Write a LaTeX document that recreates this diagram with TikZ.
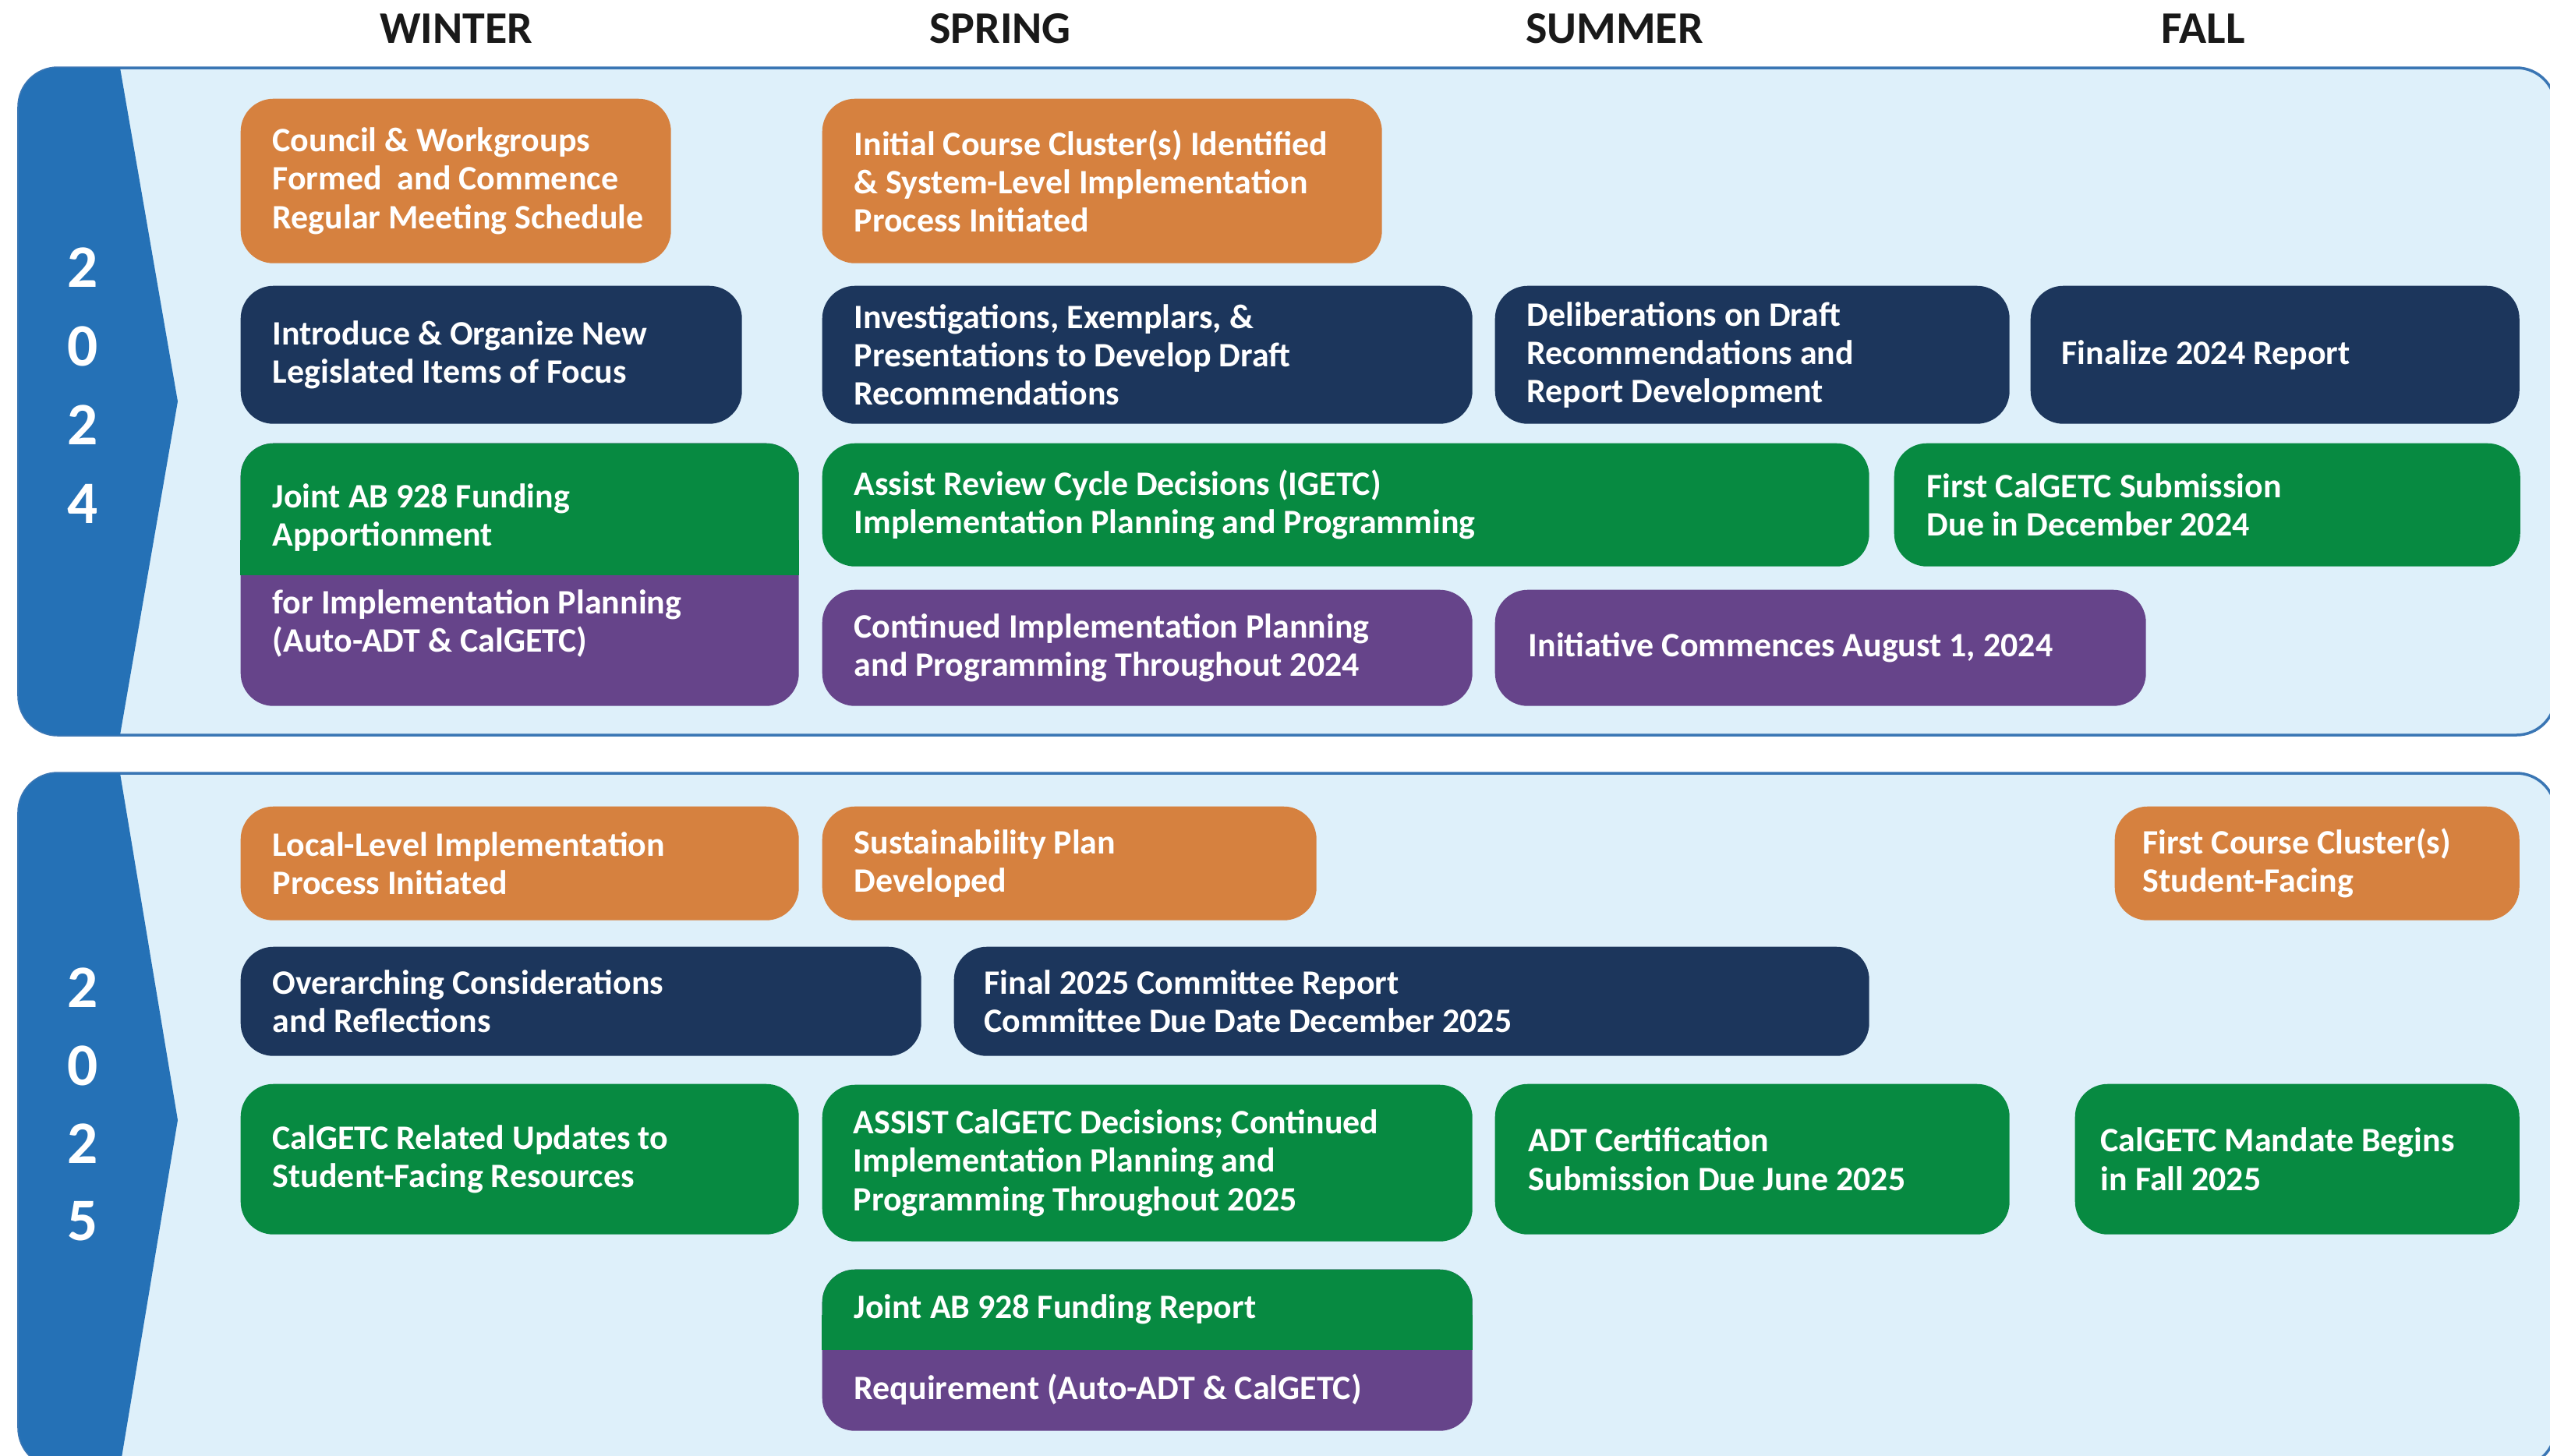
\documentclass[tikz,border=0pt]{standalone}
\usepackage{fontspec}
\setmainfont{Carlito}

\definecolor{evorange}{HTML}{D6813F}
\definecolor{evnavy}{HTML}{1C365C}
\definecolor{evgreen}{HTML}{078A41}
\definecolor{evpurple}{HTML}{66448A}
\definecolor{yrblue}{HTML}{2571B6}
\definecolor{panelfill}{HTML}{DEF0FA}
\definecolor{panelline}{HTML}{3A76B4}

\newcommand{\evfont}{\fontsize{12.5}{14}\selectfont\bfseries}

\tikzset{
  evbox/.style 2 args={minimum width=#1cm, minimum height=#2cm, rounded corners=0.42cm,
    anchor=north west, inner sep=0pt},
  evtext/.style={anchor=west, align=left, text=white, font=\evfont, inner sep=0pt},
  season/.style={font=\fontsize{16.5}{18}\selectfont\bfseries, text=black!90},
  yeardigit/.style={font=\fontsize{22}{24}\selectfont\bfseries, text=white},
  panel/.style={fill=panelfill, draw=panelline, line width=1pt, rounded corners=0.5cm}
}

\begin{document}
\begin{tikzpicture}[x=1cm, y=-1cm]
  \fill[white] (0,0) rectangle (32.71,18.67);
  \useasboundingbox (0,0) rectangle (32.71,18.67);

  % Season headings
  \node[season] (winter) at (5.85,0.37) {WINTER};
  \node[season] (spring) at (12.83,0.37) {SPRING};
  \node[season] (summer) at (20.71,0.37) {SUMMER};
  \node[season] (fall)   at (28.26,0.37) {FALL};

  % Year panels with blue tabs
  \draw[panel] (0.24,0.87) rectangle (32.78,9.43);
  \begin{scope}
    \clip[rounded corners=0.5cm] (0.24,0.87) rectangle (32.78,9.43);
    \fill[yrblue] (0,0.8) -- (1.54,0.8) -- (1.54,0.87) -- (2.28,5.15) -- (1.54,9.43) -- (1.54,9.5) -- (0,9.5) -- cycle;
  \end{scope}
  \draw[panel] (0.24,9.92) rectangle (32.78,18.82);
  \begin{scope}
    \clip[rounded corners=0.5cm] (0.24,9.92) rectangle (32.78,18.82);
    \fill[yrblue] (0,9.85) -- (1.54,9.85) -- (1.54,9.92) -- (2.28,14.37) -- (1.54,18.82) -- (1.54,18.9) -- (0,18.9) -- cycle;
  \end{scope}

  % Year digits
  \foreach \d [count=\i] in {2,0,2,4}
    \node[yeardigit] (y24-\i) at (1.06,{3.43+1.01*(\i-1)}) {\d};
  \foreach \d [count=\i] in {2,0,2,5}
    \node[yeardigit] (y25-\i) at (1.06,{12.67+1.0*(\i-1)}) {\d};

  % 2024: first row
  \node[evbox={5.52}{2.11}, fill=evorange] (council) at (3.08,1.26) {};
  \node[evtext] (council-t) at ([xshift=0.41cm]council.west) {Council \& Workgroups\\Formed~ and Commence\\Regular Meeting Schedule};
  \node[evbox={7.18}{2.11}, fill=evorange] (cluster) at (10.54,1.26) {};
  \node[evtext] (cluster-t) at ([xshift=0.41cm]cluster.west) {Initial Course Cluster(s) Identified\\\& System-Level Implementation\\Process Initiated};

  % 2024: second row
  \node[evbox={6.43}{1.77}, fill=evnavy] (introduce) at (3.08,3.66) {};
  \node[evtext] (introduce-t) at ([xshift=0.41cm]introduce.west) {Introduce \& Organize New\\Legislated Items of Focus};
  \node[evbox={8.34}{1.77}, fill=evnavy] (investigate) at (10.54,3.66) {};
  \node[evtext] (investigate-t) at ([xshift=0.41cm]investigate.west) {Investigations, Exemplars, \&\\Presentations to Develop Draft\\Recommendations};
  \node[evbox={6.60}{1.77}, fill=evnavy] (deliberate) at (19.17,3.66) {};
  \node[evtext] (deliberate-t) at ([xshift=0.41cm]deliberate.west) {Deliberations on Draft\\Recommendations and\\Report Development};
  \node[evbox={6.27}{1.77}, fill=evnavy] (finalize) at (26.04,3.66) {};
  \node[evtext] (finalize-t) at ([xshift=0.40cm]finalize.west) {Finalize 2024 Report};

  % 2024: funding box, green over purple
  \node[evbox={7.16}{3.37}, fill=evpurple] (funding) at (3.08,5.68) {};
  \node[evbox={7.16}{1.69}, fill=evgreen] (funding-top) at (3.08,5.68) {};
  \fill[evgreen] ([yshift=0.45cm]funding-top.south west) rectangle (funding-top.south east);
  \node[evtext] (funding-t1) at (3.49,6.64) {Joint AB 928 Funding\\Apportionment};
  \node[evtext] (funding-t2) at (3.49,8.00) {for Implementation Planning\\(Auto-ADT \& CalGETC)};

  % 2024: third row
  \node[evbox={13.43}{1.58}, fill=evgreen] (review) at (10.54,5.68) {};
  \node[evtext] (review-t) at ([xshift=0.41cm]review.west) {Assist Review Cycle Decisions (IGETC)\\Implementation Planning and Programming};
  \node[evbox={8.03}{1.58}, fill=evgreen] (submission) at (24.29,5.68) {};
  \node[evtext] (submission-t) at ([xshift=0.42cm]submission.west) {First CalGETC Submission\\Due in December 2024};

  % 2024: fourth row
  \node[evbox={8.34}{1.49}, fill=evpurple] (continued) at (10.54,7.56) {};
  \node[evtext] (continued-t) at ([xshift=0.41cm]continued.west) {Continued Implementation Planning\\and Programming Throughout 2024};
  \node[evbox={8.35}{1.49}, fill=evpurple] (initiative) at (19.17,7.56) {};
  \node[evtext] (initiative-t) at ([xshift=0.43cm]initiative.west) {Initiative Commences August 1, 2024};

  % 2025: first row
  \node[evbox={7.16}{1.46}, fill=evorange] (local) at (3.08,10.34) {};
  \node[evtext] (local-t) at ([xshift=0.41cm]local.west) {Local-Level Implementation\\Process Initiated};
  \node[evbox={6.34}{1.46}, fill=evorange] (sustain) at (10.54,10.34) {};
  \node[evtext] (sustain-t) at ([xshift=0.41cm]sustain.west) {Sustainability Plan\\Developed};
  \node[evbox={5.19}{1.46}, fill=evorange] (studentfacing) at (27.12,10.34) {};
  \node[evtext] (studentfacing-t) at ([xshift=0.36cm]studentfacing.west) {First Course Cluster(s)\\Student-Facing};

  % 2025: second row
  \node[evbox={8.73}{1.40}, fill=evnavy] (overarching) at (3.08,12.14) {};
  \node[evtext] (overarching-t) at ([xshift=0.41cm]overarching.west) {Overarching Considerations\\and Reflections};
  \node[evbox={11.74}{1.40}, fill=evnavy] (finalreport) at (12.23,12.14) {};
  \node[evtext] (finalreport-t) at ([xshift=0.39cm]finalreport.west) {Final 2025 Committee Report\\Committee Due Date December 2025};

  % 2025: third row
  \node[evbox={7.16}{1.93}, fill=evgreen] (updates) at (3.08,13.90) {};
  \node[evtext] (updates-t) at ([xshift=0.41cm]updates.west) {CalGETC Related Updates to\\Student-Facing Resources};
  \node[evbox={8.34}{2.01}, fill=evgreen] (decisions) at (10.54,13.91) {};
  \node[evtext] (decisions-t) at ([xshift=0.40cm]decisions.west) {ASSIST CalGETC Decisions; Continued\\Implementation Planning and\\Programming Throughout 2025};
  \node[evbox={6.60}{1.93}, fill=evgreen] (adt) at (19.17,13.90) {};
  \node[evtext] (adt-t) at ([xshift=0.43cm]adt.west) {ADT Certification\\Submission Due June 2025};
  \node[evbox={5.70}{1.93}, fill=evgreen] (mandate) at (26.61,13.90) {};
  \node[evtext] (mandate-t) at ([xshift=0.33cm]mandate.west) {CalGETC Mandate Begins\\in Fall 2025};

  % 2025: funding report box, green over purple
  \node[evbox={8.34}{2.07}, fill=evpurple] (fundreport) at (10.54,16.28) {};
  \node[evbox={8.34}{1.03}, fill=evgreen] (fundreport-top) at (10.54,16.28) {};
  \fill[evgreen] ([yshift=0.45cm]fundreport-top.south west) rectangle (fundreport-top.south east);
  \node[evtext] (fundreport-t1) at ([xshift=0.41cm]fundreport-top.west) {Joint AB 928 Funding Report};
  \node[evtext] (fundreport-t2) at (10.95,17.83) {Requirement (Auto-ADT \& CalGETC)};
\end{tikzpicture}
\end{document}
